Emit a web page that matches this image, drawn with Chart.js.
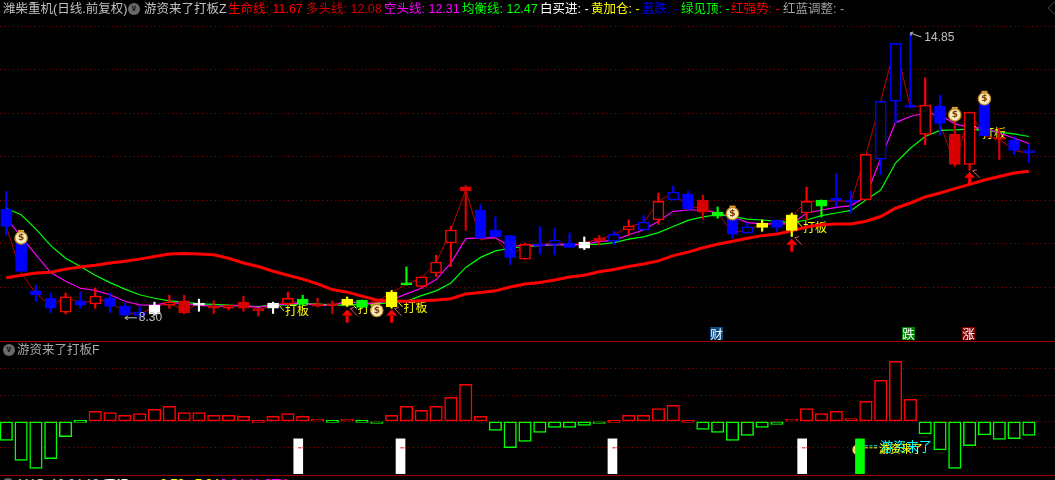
<!DOCTYPE html>
<html>
<head>
<meta charset="utf-8">
<script src="https://cdn.jsdelivr.net/npm/chart.js@4"></script>
<style>
    html, body { margin: 0; padding: 0; background: #000; width: 1055px; height: 480px; overflow: hidden; }
    canvas { position: absolute; left: 0; }
    .txt { position: absolute; white-space: nowrap; font: 12.5px "Liberation Sans", "Noto Sans CJK SC", sans-serif; line-height: 16px; }
    .icon { position: absolute; width: 12px; height: 12px; border-radius: 50%; background: #6a6a6a; color: #222; font: bold 9px/11px "DejaVu Sans"; text-align: center; }
    .tag { position: absolute; width: 13px; height: 13px; color: #fff; font: 12.5px/13px "Noto Sans CJK SC"; text-align: center; }
    .rule { position: absolute; left: 0; width: 1055px; height: 1px; background: #a00000; }
</style>
</head>
<body>
<canvas id="price-chart" width="1055" height="340" style="top:0"></canvas>
<canvas id="flow-chart" width="1055" height="133" style="top:342px"></canvas>
<div class="rule" style="top:341px"></div>
<div class="rule" style="top:475px"></div>
<div id="labels"></div>

<script>
// candle data, index 0 is the left-most day
const opens = [10.80,10.06,8.92,8.75,8.43,8.69,8.62,8.75,8.57,8.43,
    8.59,8.59,8.69,8.64,8.57,8.52,8.66,8.50,8.64,8.62,
    8.73,8.62,8.59,8.73,8.71,8.50,8.89,9.08,9.02,9.33,
    10.02,11.31,10.78,10.32,10.19,9.65,9.96,10.09,10.02,10.04,
    10.13,10.22,10.32,10.50,10.55,11.19,11.14,11.01,10.73,10.62,
    10.39,10.48,10.55,10.67,10.71,11.01,11.01,10.98,11.01,13.28,
    14.61,13.15,12.52,13.17,12.52,11.83,13.21,12.42,12.39,12.12];
const closes = [10.40,9.37,8.83,8.52,8.78,8.59,8.80,8.56,8.36,8.36,
    8.39,8.66,8.41,8.59,8.52,8.59,8.52,8.46,8.52,8.75,
    8.62,8.57,8.58,8.59,8.54,8.56,8.55,9.06,9.24,9.58,
    10.32,11.22,10.13,10.16,9.69,9.99,9.95,9.99,9.92,9.90,
    10.07,10.06,10.41,10.32,10.98,11.01,10.81,10.73,10.64,10.22,
    10.25,10.38,10.38,10.31,10.98,10.87,11.00,10.96,12.06,11.95,
    13.28,13.14,13.19,12.77,11.83,13.03,12.49,12.40,12.15,12.10];
const highs = [11.21,10.25,9.05,8.87,8.87,8.89,8.98,8.87,8.64,8.56,
    8.66,8.82,8.82,8.73,8.69,8.59,8.80,8.52,8.66,8.89,
    8.82,8.75,8.69,8.78,8.71,8.56,8.93,9.47,9.24,9.74,
    10.40,11.34,10.90,10.62,10.19,10.02,10.40,10.35,10.25,10.16,
    10.19,10.29,10.55,10.65,11.17,11.33,11.21,11.12,10.85,10.62,
    10.48,10.55,10.55,10.71,11.31,11.01,11.61,11.21,12.06,13.28,
    14.61,14.85,13.82,13.42,12.85,13.03,13.39,12.66,12.47,12.29];
const lows = [10.20,9.37,8.68,8.42,8.39,8.52,8.52,8.42,8.36,8.30,
    8.36,8.52,8.39,8.45,8.40,8.48,8.45,8.34,8.40,8.59,
    8.59,8.55,8.39,8.56,8.54,8.50,8.52,9.05,8.98,9.25,
    9.48,10.31,10.13,10.16,9.52,9.65,9.77,9.75,9.92,9.87,
    9.98,9.99,10.20,10.32,10.45,11.01,10.77,10.57,10.59,10.13,
    10.25,10.29,10.29,10.17,10.55,10.62,10.85,10.71,11.01,11.59,
    12.78,13.14,12.28,12.50,11.78,11.69,12.49,11.94,12.06,11.87];
// B blue solid, b blue hollow, R red hollow, r red solid, W white, Y yellow, G green
const candleKinds = ["B","B","B","B","R","B","R","B","B","b",
    "W","R","r","W","r","R","r","r","W","R",
    "G","r","r","Y","G","R","Y","G","R","R",
    "R","r","B","B","B","R","B","b","B","W",
    "r","b","R","b","R","b","B","r","G","B",
    "b","Y","B","Y","R","G","B","B","R","b",
    "b","B","R","B","r","R","B","r","B","B"];

// indicator lines
const lifeLine = [9.22,9.28,9.33,9.35,9.42,9.47,9.51,9.56,9.60,9.65,9.71,9.77,9.78,9.77,9.75,9.67,9.56,9.48,9.37,9.28,9.19,9.08,8.95,8.89,
    8.80,8.71,8.68,8.68,8.69,8.71,8.74,8.85,8.88,8.92,9.01,9.08,9.11,9.17,9.24,9.28,9.36,9.41,9.48,9.54,9.61,9.73,9.81,
    9.91,9.99,10.06,10.13,10.19,10.23,10.30,10.39,10.44,10.46,10.46,10.52,10.63,10.82,10.94,11.08,11.17,11.27,11.37,11.47,11.55,11.63,11.67];
const longLine = [10.40,9.33,8.87,8.56,8.79,8.64,8.71,8.68,8.42,8.37,8.56,8.62,8.49,8.61,8.56,8.56,8.60,8.49,8.58,8.69,8.64,8.60,8.59,8.68,
    8.64,8.68,8.87,9.08,9.21,9.56,10.32,11.24,10.09,10.16,9.71,9.98,9.96,10.06,9.96,10.03,10.11,10.21,10.40,10.48,10.98,11.17,10.86,
    10.82,10.71,10.25,10.32,10.44,10.48,10.63,10.98,10.98,10.99,10.98,12.05,13.28,14.58,13.14,13.19,12.77,11.83,13.03,12.49,12.41,12.15,12.08];
const shortLine = [10.59,10.17,9.75,9.34,9.14,8.98,8.93,8.83,8.68,8.60,8.59,8.66,8.62,8.59,8.56,8.58,8.59,8.54,8.60,8.62,8.64,8.59,8.58,8.69,
    8.62,8.64,8.71,8.85,8.98,9.18,9.56,10.12,10.14,10.14,9.94,9.97,9.96,9.99,9.97,9.99,10.06,10.08,10.21,10.32,10.52,10.75,10.78,
    10.78,10.71,10.63,10.49,10.46,10.46,10.46,10.71,10.78,10.84,10.88,11.09,11.97,12.79,12.93,13.01,12.97,12.76,12.68,12.66,12.55,12.43,12.31];
const balanceLine = [10.82,10.67,10.34,9.96,9.67,9.48,9.28,9.11,8.96,8.83,8.75,8.69,8.66,8.62,8.61,8.59,8.57,8.56,8.59,8.60,8.62,8.62,8.59,8.59,
    8.62,8.62,8.65,8.68,8.81,8.92,9.10,9.46,9.69,9.84,9.90,9.94,9.96,9.98,9.98,9.99,9.99,10.03,10.11,10.16,10.26,10.40,10.54,
    10.62,10.67,10.63,10.57,10.55,10.52,10.49,10.55,10.65,10.71,10.77,11.01,11.24,11.86,12.20,12.47,12.61,12.62,12.64,12.61,12.57,12.53,12.47];

const priceTicks = [9, 10, 11, 12, 13, 14, 15];

// lower panel
const flowValues = [-0.72,-1.48,-1.78,-1.41,-0.58,-0.03,0.38,0.34,0.23,0.30,
    0.46,0.57,0.34,0.34,0.23,0.23,0.19,0.04,0.19,0.30,
    0.19,0.08,-0.04,0.08,-0.01,-0.08,0.23,0.57,0.42,0.57,
    0.91,1.41,0.19,-0.34,-0.99,-0.76,-0.42,-0.23,-0.23,-0.15,
    -0.08,0.04,0.23,0.23,0.49,0.61,0.04,-0.30,-0.42,-0.72,
    -0.53,-0.23,-0.11,0.08,0.49,0.30,0.38,0.11,0.76,1.56,
    2.28,0.84,-0.47,-1.08,-1.78,-0.92,-0.51,-0.68,-0.65,-0.53];
const flowTicks = [-1, 0, 1, 2];
const signalX = [19.7, 26.6, 40.9, 53.7, 57.6];
const signalColors = ["#ffffff", "#ffffff", "#ffffff", "#ffffff", "#00ff00"];
const signalTop = -0.66;
const signalBottom = -1.98;

// marks on the price panel
const dabanX = [18.8, 23.7, 26.8, 53.76, 65.84];
const dabanPrice = [8.46, 8.51, 8.55, 10.39, 12.55];
const arrowX = [23, 26, 53, 65];
const arrowPrice = [8.49, 8.49, 10.12, 11.66];
const bagX = [1, 25, 49, 64, 66];
const bagPrice = [10.16, 8.49, 10.72, 12.99, 13.36];
const lowIndex = 8, lowValue = 8.30;
const highIndex = 61, highValue = 14.85;

const headerItems = [
    [3, "潍柴重机(日线.前复权)", "#c0c0c0"],
    [144, "游资来了打板Z", "#c0c0c0"],
    [228, "生命线: 11.67", "#ff0000"],
    [306, "多头线: 12.08", "#d00000"],
    [384, "空头线: 12.31", "#ff00ff"],
    [462, "均衡线: 12.47", "#00ff00"],
    [540, "白买进: -", "#ffffff"],
    [591, "黄加仓: -", "#ffff00"],
    [642, "蓝跌: -", "#0000ff"],
    [681, "绿见顶: -", "#00ff00"],
    [731, "红强势: -", "#ff0000"],
    [783, "红蓝调整: -", "#a0a0a0"]
];
const footItems = [
    [18, "MA5: 10.84 10.00", "#c0c0c0"],
    [107, "747", "#ffffff"],
    [160, "0.79", "#ffff00"],
    [195, "7.34", "#ffff00"],
    [220, "0.94 11.07", "#ff00ff"],
    [265, "8.01", "#ff00ff"]
];

const kindColor = { B: "#0000ff", b: "#0000ff", R: "#ff0000", r: "#d80000", W: "#ffffff", Y: "#ffff00", G: "#00ff00" };
const hollowKinds = ["b", "R"];
const gridColor = "#a00000";
const days = opens.map((_, i) => i);

// same horizontal mapping for both panels
const xScale = { type: "linear", display: false, offset: false, min: -0.425, max: 70.76 };

function lineSet(values, color, width, order) {
    return {
        type: "line",
        data: days.map(i => ({ x: i, y: values[i] })),
        borderColor: color,
        borderWidth: width,
        pointRadius: 0,
        tension: 0,
        order: order
    };
}

function drawBag(ctx, x, y) {
    ctx.fillStyle = "#d8a030";
    ctx.fillRect(x - 3, y - 7, 6, 3);
    ctx.fillStyle = "#f7e9b8";
    ctx.beginPath();
    ctx.arc(x, y + 1, 6.2, 0, Math.PI * 2);
    ctx.fill();
    ctx.strokeStyle = "#c08a20";
    ctx.lineWidth = 1.2;
    ctx.stroke();
    ctx.fillStyle = "#7a3a00";
    ctx.font = "bold 9px 'DejaVu Sans'";
    ctx.textAlign = "center";
    ctx.textBaseline = "middle";
    ctx.fillText("$", x, y + 1);
    ctx.textAlign = "left";
}

function drawArrow(ctx, x, y) {
    ctx.fillStyle = "#ff0000";
    ctx.beginPath();
    ctx.moveTo(x, y);
    ctx.lineTo(x + 5.5, y + 6);
    ctx.lineTo(x - 5.5, y + 6);
    ctx.fill();
    ctx.fillRect(x - 1.5, y + 6, 3, 7);
    ctx.strokeStyle = "#d06060";
    ctx.lineWidth = 1;
    ctx.beginPath();
    ctx.moveTo(x + 3, y - 1);
    ctx.lineTo(x + 10, y + 6);
    ctx.moveTo(x + 3, y - 1);
    ctx.lineTo(x + 7, y - 2);
    ctx.stroke();
}

const priceMarks = {
    id: "priceMarks",
    beforeDatasetsDraw(chart) {
        const { ctx, scales: { x, y } } = chart;
        ctx.save();
        ctx.font = "12px 'Noto Sans CJK SC'";
        ctx.textBaseline = "middle";
        dabanX.forEach((v, i) => {
            const px = x.getPixelForValue(v), py = y.getPixelForValue(dabanPrice[i]);
            ctx.fillStyle = "#ffff00";
            ctx.fillText("打板", px, py);
            ctx.strokeStyle = "#ffff00";
            ctx.lineWidth = 1;
            ctx.beginPath();
            ctx.moveTo(px - 7, py - 7);
            ctx.lineTo(px - 1, py);
            ctx.stroke();
        });
        ctx.restore();
    },
    afterDatasetsDraw(chart) {
        const { ctx, scales: { x, y } } = chart;
        ctx.save();
        arrowX.forEach((v, i) => drawArrow(ctx, x.getPixelForValue(v), y.getPixelForValue(arrowPrice[i])));
        bagX.forEach((v, i) => drawBag(ctx, x.getPixelForValue(v), y.getPixelForValue(bagPrice[i])));

        // high and low labels
        ctx.font = "12px 'Liberation Sans'";
        ctx.textBaseline = "middle";
        ctx.fillStyle = "#c0c0c0";
        ctx.strokeStyle = "#c0c0c0";
        ctx.lineWidth = 1;
        const hx = x.getPixelForValue(highIndex), hy = y.getPixelForValue(highValue);
        ctx.beginPath();
        ctx.moveTo(hx, hy);
        ctx.lineTo(hx + 11, hy + 4);
        ctx.moveTo(hx, hy);
        ctx.lineTo(hx + 1, hy + 3);
        ctx.moveTo(hx, hy);
        ctx.lineTo(hx + 3, hy - 1);
        ctx.stroke();
        ctx.fillText(highValue.toFixed(2), hx + 14, hy + 5);
        const lx = x.getPixelForValue(lowIndex), ly = y.getPixelForValue(lowValue);
        ctx.beginPath();
        ctx.moveTo(lx, ly);
        ctx.lineTo(lx + 12, ly);
        ctx.moveTo(lx, ly);
        ctx.lineTo(lx + 3, ly - 2);
        ctx.moveTo(lx, ly);
        ctx.lineTo(lx + 3, ly + 2);
        ctx.stroke();
        ctx.fillText(lowValue.toFixed(2), lx + 14, ly);
        ctx.restore();
    }
};

const flowMarks = {
    id: "flowMarks",
    beforeDatasetsDraw(chart) {
        // yellow glow behind the last signal column
        const { ctx, scales: { x, y } } = chart;
        ctx.save();
        ctx.fillStyle = "#ffd860";
        ctx.beginPath();
        ctx.arc(x.getPixelForValue(signalX[4]) - 2, y.getPixelForValue(-1.07), 5.5, 0, Math.PI * 2);
        ctx.fill();
        ctx.restore();
    },
    afterDatasetsDraw(chart) {
        const { ctx, scales: { x, y } } = chart;
        const px = x.getPixelForValue(signalX[4]) + 5, py = y.getPixelForValue(-1);
        ctx.save();
        // the grid shows through the right half of the white columns
        ctx.strokeStyle = "#d00000";
        ctx.lineWidth = 1;
        ctx.setLineDash([3, 1]);
        signalX.slice(0, 4).forEach(v => {
            const sx = x.getPixelForValue(v);
            ctx.beginPath();
            ctx.moveTo(sx, py);
            ctx.lineTo(sx + 6, py);
            ctx.stroke();
        });
        ctx.textBaseline = "middle";
        ctx.setLineDash([3, 1.5]);
        ctx.strokeStyle = "#00ffff";
        ctx.beginPath();
        ctx.moveTo(px, py - 2);
        ctx.lineTo(px + 13, py - 2);
        ctx.stroke();
        ctx.strokeStyle = "#ffff00";
        ctx.beginPath();
        ctx.moveTo(px, py);
        ctx.lineTo(px + 13, py);
        ctx.stroke();
        ctx.font = "13px 'Noto Sans CJK SC'";
        ctx.fillStyle = "#00ffff";
        ctx.fillText("游资来了", px + 15, py - 2);
        ctx.font = "11px 'Noto Sans CJK SC'";
        ctx.fillStyle = "#ffff00";
        ctx.fillText("游资来了", px + 14, py + 1);
        ctx.restore();
    }
};

new Chart(document.getElementById("price-chart"), {
    data: {
        datasets: [
            lineSet(longLine, "#c00000", 1, 6),
            lineSet(balanceLine, "#00ff00", 1.2, 5),
            lineSet(shortLine, "#ff00ff", 1.2, 4),
            lineSet(lifeLine, "#ff0000", 3, 3),
            {
                type: "bar",
                data: days.map(i => ({ x: i, y: [lows[i], highs[i]] })),
                backgroundColor: candleKinds.map(k => kindColor[k]),
                barThickness: 1.5,
                grouped: false,
                order: 2
            },
            {
                type: "bar",
                data: days.map(i => ({ x: i, y: [Math.min(opens[i], closes[i]), Math.max(opens[i], closes[i])] })),
                backgroundColor: candleKinds.map(k => hollowKinds.includes(k) ? "#000000" : kindColor[k]),
                borderColor: candleKinds.map(k => kindColor[k]),
                borderWidth: 1.5,
                borderSkipped: false,
                minBarLength: 2,
                barThickness: 11,
                grouped: false,
                order: 1
            }
        ]
    },
    options: {
        responsive: false,
        animation: false,
        layout: { padding: 0 },
        plugins: { legend: { display: false }, tooltip: { enabled: false } },
        scales: {
            x: xScale,
            y: {
                min: 7.79,
                max: 15.609,
                ticks: { display: false },
                border: { display: false, dash: [1, 3.3] },
                grid: { color: gridColor, drawTicks: false },
                afterBuildTicks(axis) { axis.ticks = priceTicks.map(v => ({ value: v })); },
                afterFit(axis) { axis.width = 0; }
            }
        }
    },
    plugins: [priceMarks]
});

new Chart(document.getElementById("flow-chart"), {
    data: {
        datasets: [
            {
                type: "bar",
                data: days.map(i => ({ x: i, y: [0, flowValues[i]] })),
                backgroundColor: "#000000",
                borderColor: flowValues.map(v => v >= 0 ? "#ff0000" : "#00ff00"),
                borderWidth: 1.5,
                borderSkipped: false,
                minBarLength: 2,
                barThickness: 12.5,
                grouped: false,
                order: 2
            },
            {
                type: "bar",
                data: signalX.map(v => ({ x: v, y: [signalBottom, signalTop] })),
                backgroundColor: signalColors,
                barThickness: 9,
                grouped: false,
                order: 1
            }
        ]
    },
    options: {
        responsive: false,
        animation: false,
        layout: { padding: 0 },
        plugins: { legend: { display: false }, tooltip: { enabled: false } },
        scales: {
            x: xScale,
            y: {
                min: -2.03,
                max: 3.01,
                ticks: { display: false },
                border: { display: false, dash: [1, 3.3] },
                grid: { color: gridColor, drawTicks: false },
                afterBuildTicks(axis) { axis.ticks = flowTicks.map(v => ({ value: v })); },
                afterFit(axis) { axis.width = 0; }
            }
        }
    },
    plugins: [flowMarks]
});

// header rows and small tags
const labels = document.getElementById("labels");
function addText(x, y, text, color) {
    const el = document.createElement("div");
    el.className = "txt";
    el.style.cssText = `left:${x}px;top:${y}px;color:${color}`;
    el.textContent = text;
    labels.appendChild(el);
}
function addIcon(x, y) {
    const el = document.createElement("div");
    el.className = "icon";
    el.style.cssText = `left:${x}px;top:${y}px`;
    el.textContent = "∨";
    labels.appendChild(el);
}
function addTag(x, text, bg) {
    const el = document.createElement("div");
    el.className = "tag";
    el.style.cssText = `left:${x}px;top:327px;background:${bg}`;
    el.textContent = text;
    labels.appendChild(el);
}
headerItems.forEach(h => addText(h[0], 1, h[1], h[2]));
addIcon(128, 3);
addIcon(3, 344);
addText(17, 342, "游资来了打板F", "#a8a8a8");
footItems.forEach(h => addText(h[0], 476, h[1], h[2]));
addIcon(2, 478);
addTag(710, "财", "#0a4a80");
addTag(902, "跌", "#008000");
addTag(962, "涨", "#800000");
addText(1048, 1, "◇", "#808080");
</script>
</body>
</html>
